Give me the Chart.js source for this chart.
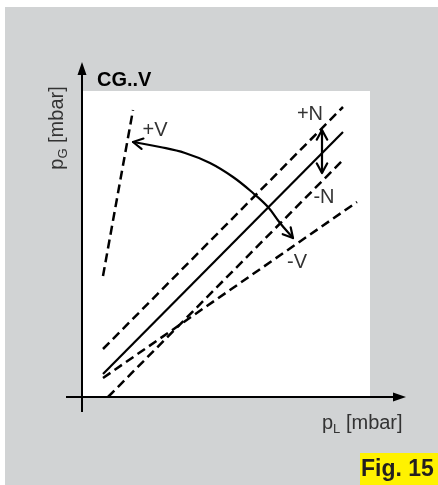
<!DOCTYPE html>
<html>
<head>
<meta charset="utf-8">
<script src="https://cdn.jsdelivr.net/npm/chart.js@4"></script>
<style>
  html, body { margin: 0; padding: 0; background: #fff; }
  #wrap { position: relative; width: 438px; height: 485px; }
</style>
</head>
<body>
<div id="wrap"><canvas id="grafica" width="438" height="485"></canvas></div>
<script>
// lines of the CG..V diagram (pL on x, pG on y, arbitrary mbar units)
const solidX = [1.05, 13.05];
const solidY = [1.15, 13.25];
const plusNX = [1.05, 13.05];
const plusNY = [2.4, 14.5];
const minusNX = [1.3, 13.05];
const minusNY = [0, 11.85];
const minusVX = [1.05, 13.75];
const minusVY = [0.95, 9.75];
const plusVX = [1.05, 2.55];
const plusVY = [6.05, 14.35];
// curved arrow between +V and -V
const arcX = [2.55, 3.9, 5.15, 6.4, 7.55, 8.55, 9.3, 9.9, 10.55];
const arcY = [12.75, 12.5, 12.2, 11.7, 11.0, 10.2, 9.5, 8.7, 7.95];
// N adjustment double arrow
const nArrowX = [12.0, 12.0];
const nArrowY = [13.35, 11.2];
// labels
const labelText = ['+V', '+N', '-N', '-V'];
const labelX = [3.65, 11.4, 12.1, 10.75];
const labelY = [13.35, 14.15, 10.0, 6.75];

const pts = (xs, ys) => xs.map((x, i) => ({ x: x, y: ys[i] }));

const linea = (xs, ys, dashed, extra) => Object.assign({
  data: pts(xs, ys),
  showLine: true,
  borderColor: '#000',
  borderWidth: dashed ? 2.5 : 2.2,
  borderDash: dashed ? [9, 5] : [],
  pointRadius: 0,
  fill: false,
}, extra || {});

const font = 'Liberation Sans, Arial, Helvetica, sans-serif';

const diagrama = {
  id: 'diagrama',
  beforeDraw(chart) {
    const { ctx, scales: { x, y } } = chart;
    ctx.save();
    // gray panel
    ctx.fillStyle = '#d1d3d4';
    ctx.fillRect(5, 7, 433, 478);
    // white plot field
    ctx.fillStyle = '#fff';
    const x0 = x.getPixelForValue(0), y0 = y.getPixelForValue(0);
    const x1 = x.getPixelForValue(14.4), y1 = y.getPixelForValue(15.3);
    ctx.fillRect(x0, y1, x1 - x0, y0 - y1);
    // axes
    ctx.strokeStyle = '#000';
    ctx.fillStyle = '#000';
    ctx.lineWidth = 2;
    const xa = x.getPixelForValue(-0.8), xb = x.getPixelForValue(16.2);
    const ya = y.getPixelForValue(-0.75), yb = y.getPixelForValue(16.75);
    ctx.beginPath();
    ctx.moveTo(xa, y0); ctx.lineTo(xb - 10, y0);
    ctx.moveTo(x0, ya); ctx.lineTo(x0, yb + 10);
    ctx.stroke();
    ctx.beginPath();
    ctx.moveTo(xb, y0); ctx.lineTo(xb - 13, y0 - 4.5); ctx.lineTo(xb - 13, y0 + 4.5); ctx.closePath();
    ctx.moveTo(x0, yb); ctx.lineTo(x0 - 4.5, yb + 13); ctx.lineTo(x0 + 4.5, yb + 13); ctx.closePath();
    ctx.fill();
    ctx.restore();
  },
  afterDatasetsDraw(chart) {
    const { ctx, scales: { x, y } } = chart;
    const px = (v) => x.getPixelForValue(v);
    const py = (v) => y.getPixelForValue(v);
    ctx.save();
    ctx.strokeStyle = '#000';
    ctx.lineWidth = 2.2;
    ctx.lineCap = 'round';
    ctx.lineJoin = 'round';
    // open arrowhead at (tx,ty) coming from (fx,fy)
    const punta = (fx, fy, tx, ty) => {
      const a = Math.atan2(ty - fy, tx - fx);
      const L = 11, w = 0.5;
      ctx.beginPath();
      ctx.moveTo(tx - L * Math.cos(a - w), ty - L * Math.sin(a - w));
      ctx.lineTo(tx, ty);
      ctx.lineTo(tx - L * Math.cos(a + w), ty - L * Math.sin(a + w));
      ctx.stroke();
    };
    const n = arcX.length;
    punta(px(arcX[1]), py(arcY[1]), px(arcX[0]), py(arcY[0]));
    punta(px(arcX[n - 2]), py(arcY[n - 2]), px(arcX[n - 1]), py(arcY[n - 1]));
    punta(px(nArrowX[1]), py(nArrowY[1]), px(nArrowX[0]), py(nArrowY[0]));
    punta(px(nArrowX[0]), py(nArrowY[0]), px(nArrowX[1]), py(nArrowY[1]));

    // labels
    ctx.fillStyle = '#333';
    ctx.textBaseline = 'middle';
    ctx.textAlign = 'center';
    ctx.font = '20px ' + font;
    labelText.forEach((t, i) => ctx.fillText(t, px(labelX[i]), py(labelY[i])));

    // title
    ctx.fillStyle = '#000';
    ctx.textAlign = 'left';
    ctx.font = 'bold 20px ' + font;
    ctx.fillText('CG..V', px(0.75), py(15.85));

    // x axis title with subscript
    ctx.fillStyle = '#333';
    ctx.font = '20px ' + font;
    let lx = px(12.0), ly = py(-1.3);
    ctx.fillText('p', lx, ly);
    lx += ctx.measureText('p').width;
    ctx.font = '13px ' + font;
    ctx.fillText('L', lx, ly + 6);
    lx += ctx.measureText('L').width;
    ctx.font = '20px ' + font;
    ctx.fillText(' [mbar]', lx, ly);

    // y axis title rotated
    ctx.save();
    ctx.translate(px(-1.25), py(13.45));
    ctx.rotate(-Math.PI / 2);
    ctx.font = '20px ' + font;
    const w1 = ctx.measureText('p').width;
    ctx.font = '13px ' + font;
    const w2 = ctx.measureText('G').width;
    ctx.font = '20px ' + font;
    const w3 = ctx.measureText(' [mbar]').width;
    let sx = -(w1 + w2 + w3) / 2;
    ctx.fillText('p', sx, 0);
    sx += w1;
    ctx.font = '13px ' + font;
    ctx.fillText('G', sx, 6);
    sx += w2;
    ctx.font = '20px ' + font;
    ctx.fillText(' [mbar]', sx, 0);
    ctx.restore();

    // figure tag
    ctx.fillStyle = '#fff200';
    ctx.fillRect(360, 453, 78, 32);
    ctx.fillStyle = '#231f20';
    ctx.font = 'bold 23px ' + font;
    ctx.textAlign = 'left';
    ctx.fillText('Fig. 15', 361, 470);
    ctx.restore();
  }
};

const ctx = document.getElementById('grafica').getContext('2d');
new Chart(ctx, {
  type: 'scatter',
  data: {
    datasets: [
      linea(solidX, solidY, false),
      linea(plusNX, plusNY, true),
      linea(minusNX, minusNY, true),
      linea(minusVX, minusVY, true),
      linea(plusVX, plusVY, true),
      linea(arcX, arcY, false, { tension: 0.4, borderCapStyle: 'round' }),
      linea(nArrowX, nArrowY, false),
    ]
  },
  options: {
    responsive: false,
    animation: false,
    devicePixelRatio: 1,
    layout: { padding: 0 },
    scales: {
      x: { type: 'linear', display: false, min: -4.1, max: 17.8 },
      y: { type: 'linear', display: false, min: -4.4, max: 19.85 }
    },
    plugins: {
      legend: { display: false },
      tooltip: { enabled: false }
    }
  },
  plugins: [diagrama]
});
</script>
</body>
</html>
